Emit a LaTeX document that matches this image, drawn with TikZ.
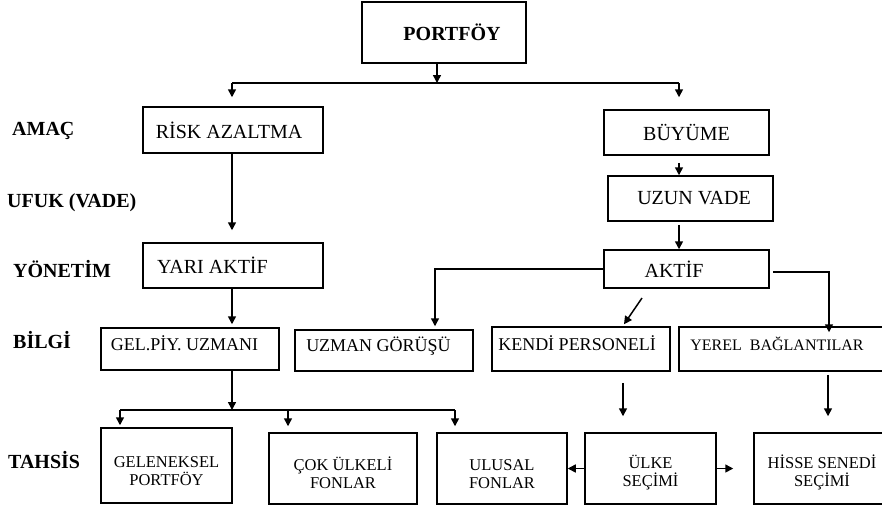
\documentclass[tikz,border=0pt]{standalone}
\usepackage{fontspec}
\setmainfont{Liberation Serif}
\usetikzlibrary{arrows.meta}
\begin{document}
\begin{tikzpicture}[x=1pt,y=-1pt,
  box/.style={draw, line width=1.5pt, inner sep=0pt, font=\fontsize{20}{22}\selectfont},
  midbox/.style={box, text height=14pt, text depth=12pt, font=\fontsize{18}{20}\selectfont},
  lowbox/.style={box, align=center, font=\fontsize{16.5}{18}\selectfont},
  lbl/.style={anchor=base west, inner sep=0pt, font=\bfseries\fontsize{20}{22}\selectfont},
  arr/.style={line width=1.5pt, -{Triangle[length=8pt,width=8pt]}},
  ln/.style={line width=1.5pt}]
\useasboundingbox (0,0) rectangle (882,507);
\clip (0,0) rectangle (882,507);

% row labels
\node[lbl] (amac) at (12,135) {AMAÇ};
\node[lbl] (ufuk) at (7,207) {UFUK (VADE)};
\node[lbl] (yonetim) at (13,277) {YÖNETİM};
\node[lbl] (bilgi) at (13,348) {BİLGİ};
\node[lbl] (tahsis) at (8,468) {TAHSİS};

% boxes
\node[box, minimum width=164, minimum height=61, font=\bfseries\fontsize{20}{22}\selectfont] (portfoy) at (444,32.5) {\hspace*{16pt}PORTFÖY};
\node[box, minimum width=180, minimum height=46] (risk) at (233,130) {RİSK AZALTMA\hspace*{8pt}};
\node[box, minimum width=180, minimum height=45] (yari) at (233,265.5) {YARI AKTİF\hspace*{41pt}};
\node[box, minimum width=165, minimum height=45] (buyume) at (686.5,132.5) {BÜYÜME};
\node[box, minimum width=165, minimum height=45] (uzun) at (690.5,198.5) {\hspace*{7pt}UZUN VADE};
\node[box, minimum width=165, minimum height=38] (aktif) at (686.5,269) {AKTİF\hspace*{25pt}};

\node[midbox, minimum width=178, minimum height=42] (gel) at (190,349) {GEL.PİY. UZMANI\hspace*{11pt}};
\node[midbox, minimum width=178, minimum height=41] (uzman) at (384,350.5) {UZMAN GÖRÜŞÜ\hspace*{11pt}};
\node[midbox, minimum width=178, minimum height=44] (kendi) at (581,349) {KENDİ PERSONELİ\hspace*{8pt}};
\node[midbox, minimum width=211, minimum height=44, font=\fontsize{16}{18}\selectfont] (yerel) at (784.5,349) {YEREL~~BAĞLANTILAR\hspace*{15pt}};

\node[lowbox, minimum width=131, minimum height=75] (gelen) at (166.5,465.5) {\rule{0pt}{22pt}GELENEKSEL\\PORTFÖY};
\node[lowbox, minimum width=148, minimum height=71] (cok) at (343,468.5) {\rule{0pt}{22pt}ÇOK ÜLKELİ\\FONLAR};
\node[lowbox, minimum width=130, minimum height=71] (ulusal) at (502,468.5) {\rule{0pt}{22pt}ULUSAL\\FONLAR};
\node[lowbox, minimum width=131, minimum height=71] (ulke) at (650.5,468.5) {\rule{0pt}{22pt}ÜLKE\\SEÇİMİ};
\node[lowbox, minimum width=136, minimum height=71] (hisse) at (822,468.5) {\rule{0pt}{22pt}HİSSE SENEDİ\\SEÇİMİ};

% connectors
\coordinate (j1) at (437,83);
\coordinate (jl) at (232,83);
\coordinate (jr) at (679,83);
\draw[arr] (portfoy.south -| j1) -- (j1);
\draw[ln] (jl) -- (jr);
\draw[arr, shorten >=9pt] (jl) -- (jl |- risk.north);
\draw[arr, shorten >=12pt] (jr) -- (jr |- buyume.north);

\draw[arr, shorten >=12pt] (risk.south -| jl) -- (yari.north -| jl);
\draw[arr, shorten >=3pt] (yari.south -| jl) -- (gel.north -| jl);

\coordinate (j2) at (232,410);
\coordinate (bl) at (120,410);
\coordinate (bm) at (288,410);
\coordinate (br) at (455,410);
\draw[arr] (gel.south -| j2) -- (j2);
\draw[ln] (bl) -- (br);
\draw[arr, shorten >=2pt] (bl) -- (bl |- gelen.north);
\draw[arr, shorten >=6pt] (bm) -- (bm |- cok.north);
\draw[arr, shorten >=6pt] (br) -- (br |- ulusal.north);

\draw[arr, shorten <=7pt] (buyume.south -| jr) -- (uzun.north -| jr);
\draw[arr, shorten <=3pt] (uzun.south -| jr) -- (aktif.north -| jr);

\coordinate (c1) at (435,269);
\draw[arr, shorten >=3pt] (aktif.west) -- (c1) -- (c1 |- uzman.north);

\coordinate (d1) at (642,298);
\draw[arr] (d1) -- ([xshift=43pt,yshift=2pt]kendi.north);

\coordinate (c3) at (773,272);
\coordinate (c2) at (829,272);
\draw[arr, shorten >=-6pt] (c3) -- (c2) -- (c2 |- yerel.north);

\coordinate (kx) at (623,380);
\draw[arr, shorten <=11pt, shorten >=16pt] (kendi.south -| kx) -- (ulke.north -| kx);
\coordinate (yx) at (828,380);
\draw[arr, shorten <=3pt, shorten >=16pt] (yerel.south -| yx) -- (hisse.north -| yx);

\draw[arr] (ulke.west) -- (ulusal.east);
\draw[arr, shorten >=20pt] (ulke.east) -- (hisse.west);
\end{tikzpicture}
\end{document}
